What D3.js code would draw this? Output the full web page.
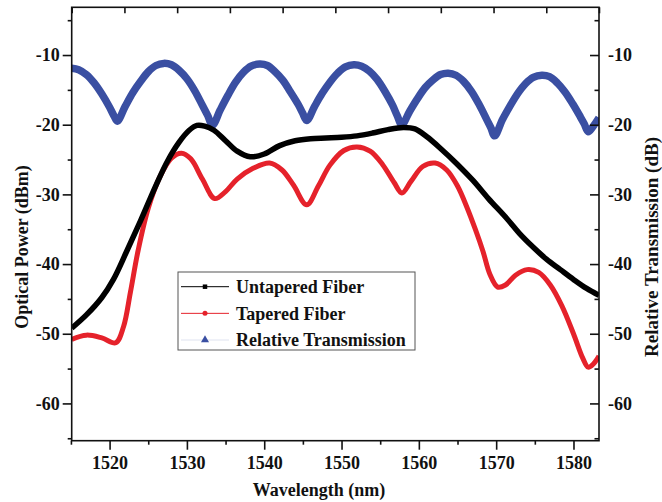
<!DOCTYPE html>
<html>
<head>
<meta charset="utf-8">
<script src="https://cdn.jsdelivr.net/npm/d3@7"></script>
<style>
  body { margin: 0; background: #fff; }
  svg text { font-family: "Liberation Serif", "Times New Roman", serif; font-weight: bold; fill: #111; }
</style>
</head>
<body>
<div id="chart"></div>
<script>
// wavelength (nm) / power (dBm)
var untaperedWl = [1515.1, 1517, 1519, 1520.5, 1522.2, 1524, 1526, 1527.5, 1529, 1530.3, 1531.3, 1532.3, 1533.5, 1535, 1536.5, 1538.2, 1540, 1542, 1544, 1546, 1548, 1550, 1552, 1554, 1556, 1558, 1559.5, 1561, 1562.7, 1565, 1567, 1569, 1571.4, 1573, 1574.8, 1576.5, 1578.3, 1580, 1581.7, 1583.3];
var untaperedDb = [-49.2, -47.3, -44.8, -42.2, -38.2, -33.8, -28.7, -25.2, -22.5, -20.8, -20.1, -20.2, -20.8, -22.3, -23.8, -24.6, -24.2, -23.0, -22.3, -22.0, -21.9, -21.8, -21.6, -21.2, -20.7, -20.4, -20.6, -21.7, -23.3, -25.7, -28.0, -30.6, -33.5, -35.6, -37.6, -39.3, -40.8, -42.2, -43.5, -44.5];

var taperedWl = [1515.1, 1517, 1519, 1520.8, 1521.8, 1522.7, 1523.7, 1525, 1526.5, 1528, 1529.3, 1530.5, 1532, 1533.6, 1535, 1536.5, 1538.5, 1540.7, 1542.3, 1543.8, 1545.5, 1547, 1548.5, 1550.3, 1552, 1553.7, 1555.3, 1556.8, 1557.8, 1559, 1560.5, 1562.1, 1563.6, 1565, 1566.2, 1567.3, 1568.3, 1569.2, 1570.2, 1571.2, 1572.5, 1574, 1575.5, 1577, 1578.5, 1580, 1581.2, 1581.9, 1582.6, 1583.3];
var taperedDb = [-50.8, -50.2, -50.6, -51.3, -49.0, -44.0, -38.0, -32.0, -27.5, -24.8, -24.1, -24.9, -27.8, -30.6, -29.6, -27.8, -26.3, -25.5, -26.5, -28.7, -31.5, -28.8, -25.8, -23.7, -23.2, -23.8, -25.7, -28.3, -29.8, -28.1, -26.0, -25.5, -26.5, -28.8, -31.8, -35.0, -38.2, -41.5, -43.3, -43.0, -41.6, -40.8, -41.2, -43.0, -46.0, -50.0, -53.5, -54.8, -54.3, -53.2];

var relWl = [1515.1, 1516, 1517, 1518, 1519, 1520, 1520.6, 1521,
  1522, 1523, 1524, 1525, 1526, 1527, 1528, 1529, 1530, 1531, 1532, 1532.7, 1533.3,
  1534.3, 1535.3, 1536.3, 1537.3, 1538.3, 1539.4, 1540.4, 1541.4, 1542.4, 1543.4, 1544.4, 1544.95, 1545.5,
  1546.5, 1547.5, 1548.5, 1549.5, 1550.5, 1551.6, 1552.6, 1553.6, 1554.6, 1555.6, 1556.6, 1557.2, 1557.8,
  1558.8, 1559.8, 1560.8, 1561.8, 1562.8, 1563.8, 1564.8, 1565.8, 1566.8, 1567.8, 1568.8, 1569.3, 1569.8,
  1570.8, 1571.8, 1572.8, 1573.8, 1574.8, 1575.9, 1576.9, 1577.9, 1578.9, 1579.9, 1580.9, 1581.4, 1581.9,
  1582.5, 1583.3];
var relDb = [-11.9, -12.1, -12.8, -14.0, -15.6, -17.5, -18.8, -19.5,
  -17.4, -15.4, -13.8, -12.4, -11.5, -11.2, -11.4, -12.2, -13.4, -15.1, -17.2, -18.7, -20.1,
  -17.9, -15.8, -13.9, -12.5, -11.6, -11.3, -11.5, -12.4, -13.6, -15.3, -17.1, -18.3, -19.4,
  -17.4, -15.5, -13.9, -12.6, -11.7, -11.4, -11.6, -12.3, -13.5, -15.2, -17.2, -18.7, -20.0,
  -18.1, -16.3, -14.7, -13.6, -12.8, -12.6, -12.9, -13.8, -15.2, -17.1, -19.3, -20.4, -21.6,
  -19.3, -17.3, -15.5, -14.1, -13.2, -12.9, -13.1, -14.0, -15.3, -17.0, -18.9, -19.9, -21.0,
  -20.3, -19.0];

var xTicks = [1520, 1530, 1540, 1550, 1560, 1570, 1580];
var xMinor = [1515, 1525, 1535, 1545, 1555, 1565, 1575];
var yTicks = [-10, -20, -30, -40, -50, -60];
var yMinor = [-5, -15, -25, -35, -45, -55, -65];

var legendNames = ["Untapered Fiber", "Tapered Fiber", "Relative Transmission"];

var W = 662, H = 502;
var mLeft = 71.7, mRight = 599, mTop = 7.3, mBottom = 440.7;
var serif = "'Liberation Serif', 'Times New Roman', serif";

var svg = d3.select("#chart").append("svg")
    .attr("width", W).attr("height", H);
svg.append("rect").attr("width", W).attr("height", H).attr("fill", "#fff");

var x = d3.scaleLinear().domain([1515.1, 1583.3]).range([mLeft, mRight]);
var y = d3.scaleLinear().domain([-65.35, -3.15]).range([mBottom, mTop]);
var xTop = d3.scaleLinear().domain([0, 10]).range([mLeft, mRight]);

var plot = svg.append("g");
plot.append("clipPath").attr("id", "clip")
    .append("rect").attr("x", mLeft).attr("y", mTop).attr("width", mRight - mLeft).attr("height", mBottom - mTop);

function series(wl, db) {
    return wl.map(function (d, i) { return [d, db[i]]; });
}

var line = d3.line()
    .x(function (d) { return x(d[0]); })
    .y(function (d) { return y(d[1]); })
    .curve(d3.curveCatmullRom.alpha(0.5));

var lines = plot.append("g").attr("clip-path", "url(#clip)");
lines.append("path").datum(series(relWl, relDb))
    .attr("d", line).attr("fill", "none")
    .attr("stroke", "#3a4fa2").attr("stroke-width", 7.5).attr("stroke-linejoin", "round");
lines.append("path").datum(series(taperedWl, taperedDb))
    .attr("d", line).attr("fill", "none")
    .attr("stroke", "#e5222b").attr("stroke-width", 5).attr("stroke-linejoin", "round");
lines.append("path").datum(series(untaperedWl, untaperedDb))
    .attr("d", line).attr("fill", "none")
    .attr("stroke", "#000").attr("stroke-width", 5.5).attr("stroke-linejoin", "round");

// axes
var hyphen = function (d) { return String(d); };

function styleAxis(g) {
    g.attr("font-family", null);
    g.select(".domain").remove();
    g.selectAll(".tick line").attr("stroke", "#111").attr("stroke-width", 1.6);
    g.selectAll(".tick text").attr("fill", "#111")
        .style("font-family", serif).style("font-weight", "bold").style("font-size", "18px");
}

svg.append("g").attr("transform", "translate(0," + mBottom + ")")
    .call(d3.axisBottom(x).tickValues(xTicks).tickSize(9).tickPadding(7).tickFormat(hyphen))
    .call(styleAxis);
svg.append("g").attr("transform", "translate(0," + mBottom + ")")
    .call(d3.axisBottom(x).tickValues(xMinor).tickSize(4).tickFormat(""))
    .call(styleAxis);

svg.append("g").attr("transform", "translate(" + mLeft + ",0)")
    .call(d3.axisLeft(y).tickValues(yTicks).tickSize(9).tickPadding(3).tickFormat(hyphen))
    .call(styleAxis);
svg.append("g").attr("transform", "translate(" + mLeft + ",0)")
    .call(d3.axisLeft(y).tickValues(yMinor).tickSize(4).tickFormat(""))
    .call(styleAxis);

svg.append("g").attr("transform", "translate(" + mRight + ",0)")
    .call(d3.axisRight(y).tickValues(yTicks).tickSize(-9).tickPadding(9).tickFormat(hyphen))
    .call(styleAxis);
svg.append("g").attr("transform", "translate(" + mRight + ",0)")
    .call(d3.axisRight(y).tickValues(yMinor).tickSize(-4.5).tickFormat(""))
    .call(styleAxis);

svg.append("g").attr("transform", "translate(0," + mTop + ")")
    .call(d3.axisTop(xTop).ticks(10).tickSize(-6).tickFormat(""))
    .call(styleAxis);

svg.append("rect")
    .attr("x", mLeft).attr("y", mTop).attr("width", mRight - mLeft).attr("height", mBottom - mTop)
    .attr("fill", "none").attr("stroke", "#111").attr("stroke-width", 1.6);

// axis titles
svg.append("text").attr("x", 319).attr("y", 496)
    .attr("text-anchor", "middle").attr("font-size", 18)
    .text("Wavelength (nm)");
svg.append("text").attr("transform", "translate(28,247) rotate(-90)")
    .attr("text-anchor", "middle").attr("font-size", 18)
    .text("Optical Power (dBm)");
svg.append("text").attr("transform", "translate(658,247) rotate(-90)")
    .attr("text-anchor", "middle").attr("font-size", 19)
    .text("Relative Transmission (dB)");

// legend
var lg = svg.append("g");
lg.append("rect").attr("x", 178).attr("y", 272).attr("width", 237).attr("height", 78)
    .attr("fill", "#fff").attr("stroke", "#555").attr("stroke-width", 1);
var legendColors = ["#000", "#e5222b", "#dfe3f0"];
var markerColors = ["#000", "#e5222b", "#3a4fa2"];
var rowY = d3.scalePoint().domain(legendNames).range([286.7, 340]);
legendNames.forEach(function (name, i) {
    var yy = rowY(name);
    lg.append("line").attr("x1", 181).attr("x2", 229).attr("y1", yy).attr("y2", yy)
        .attr("stroke", legendColors[i]).attr("stroke-width", 1);
    var sym = [d3.symbolSquare, d3.symbolCircle, d3.symbolTriangle][i];
    lg.append("path").attr("d", d3.symbol().type(sym).size(i === 2 ? 28 : 20)())
        .attr("transform", "translate(205," + yy + ")")
        .attr("fill", markerColors[i]);
    lg.append("text").attr("x", 236).attr("y", yy).attr("dy", "0.35em")
        .attr("font-size", 18).text(name);
});
</script>
</body>
</html>
